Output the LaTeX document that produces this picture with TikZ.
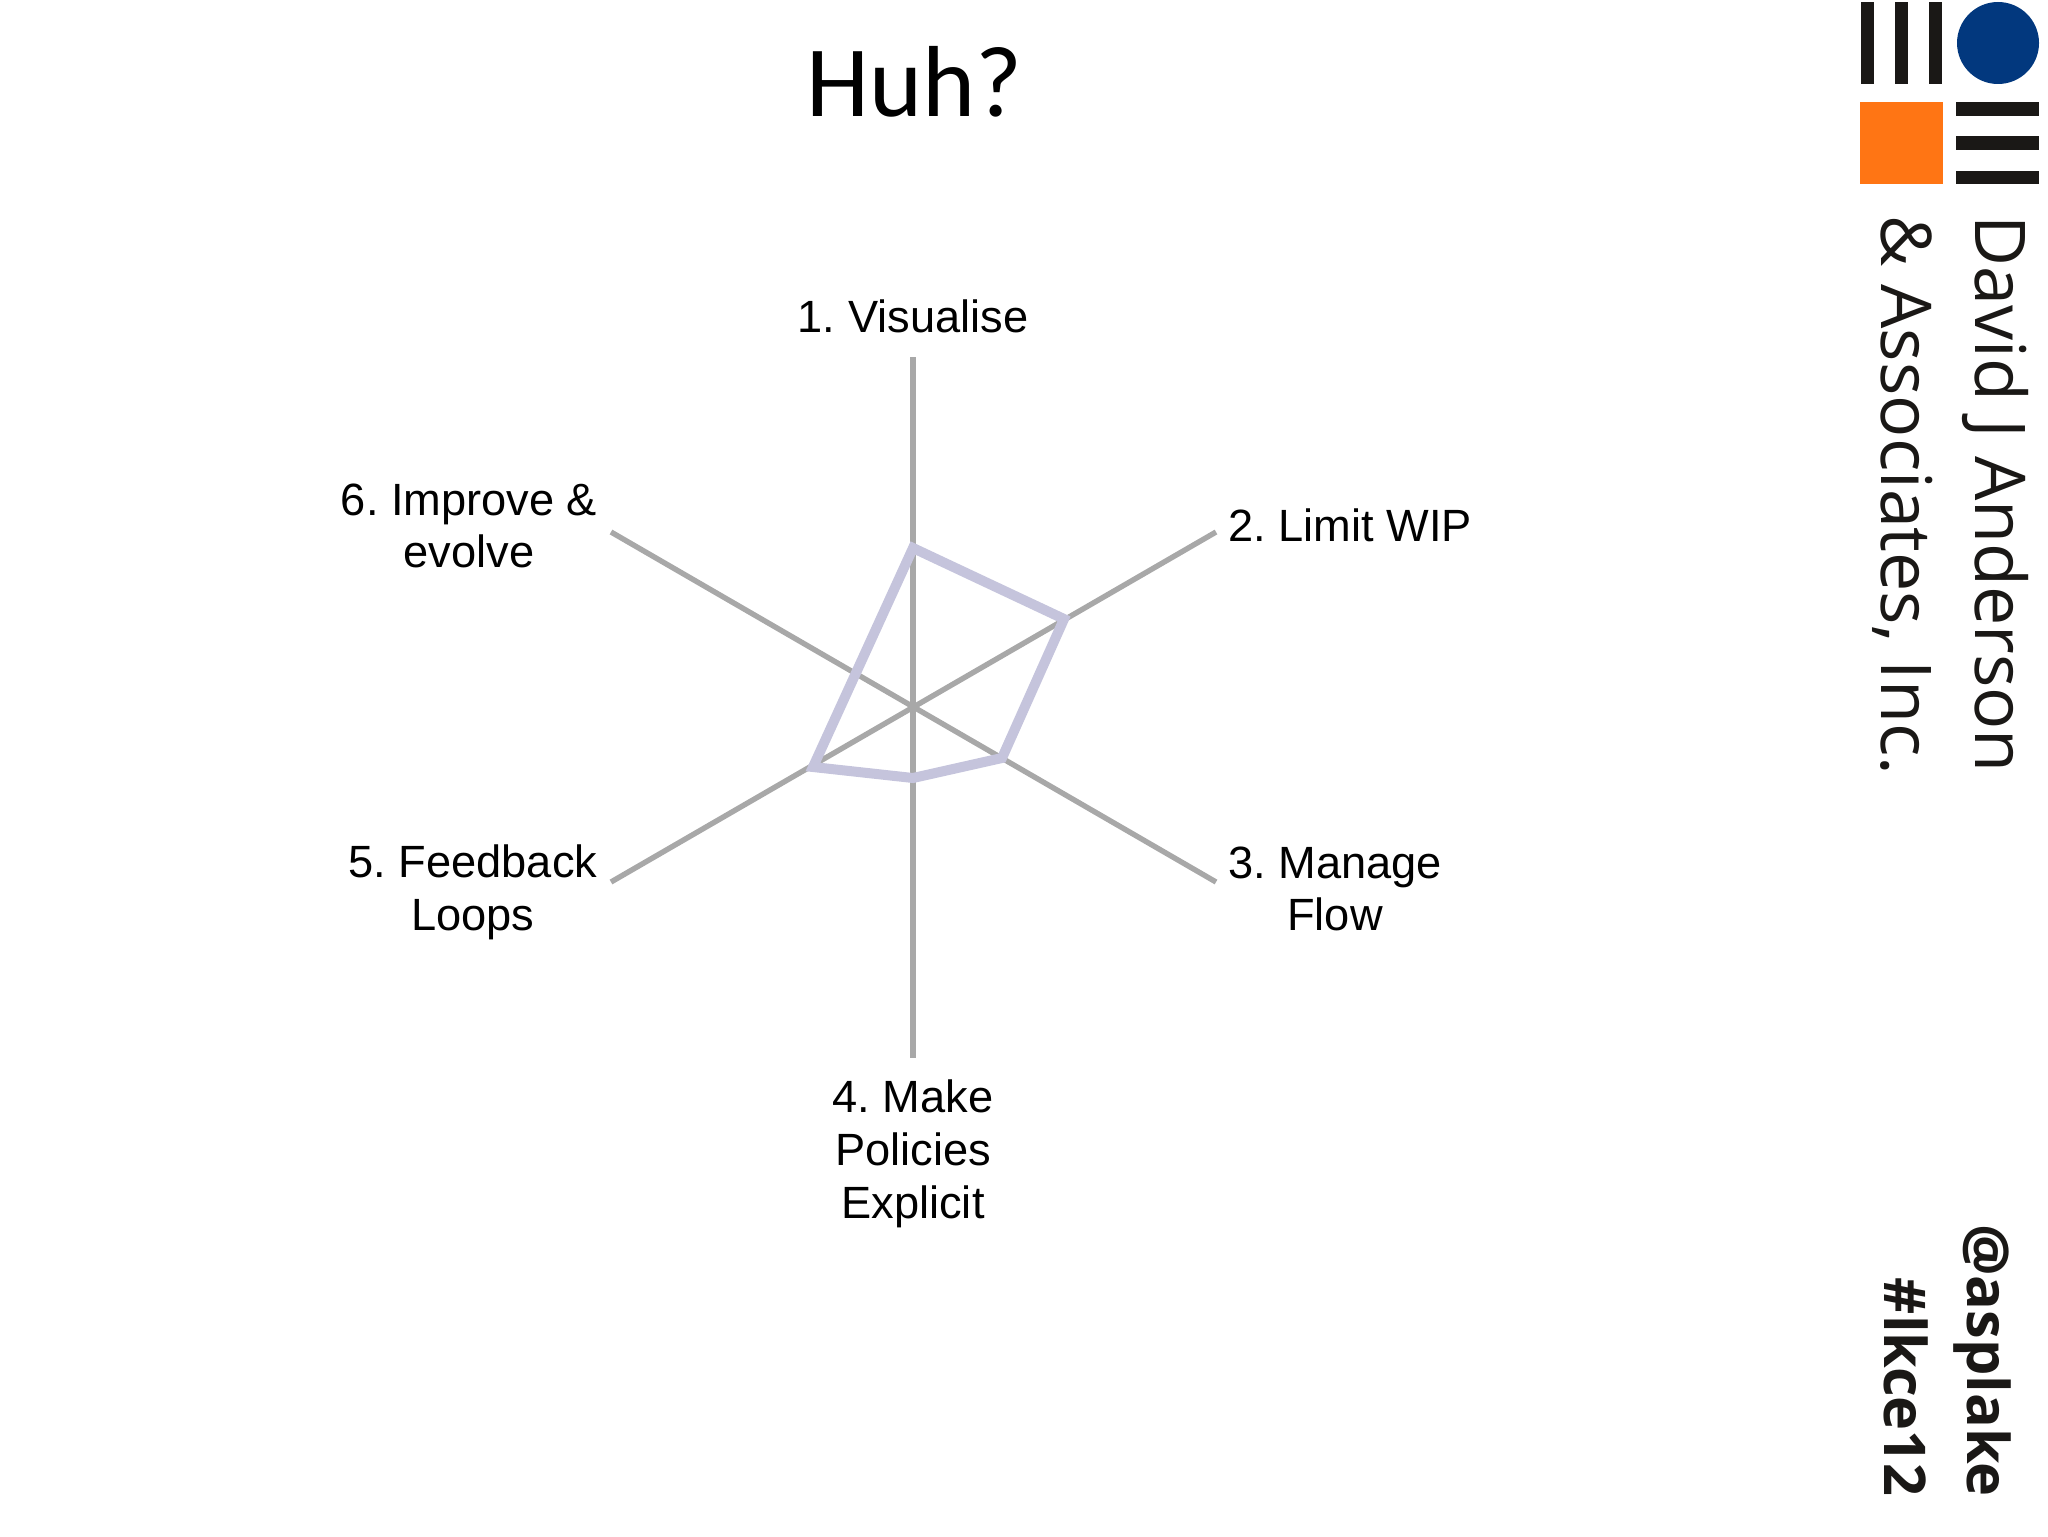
\documentclass[tikz,border=0pt]{standalone}
\usepackage{fontspec}
\setmainfont{Liberation Sans}
\newfontfamily\titlefont{Carlito}
\newfontfamily\brandfont{Open Sans}
\frenchspacing
\definecolor{spokegrey}{RGB}{168,168,168}
\definecolor{scorelilac}{RGB}{197,196,220}
\definecolor{logoblue}{RGB}{2,56,126}
\definecolor{logoorange}{RGB}{255,117,20}
\definecolor{logoblack}{RGB}{26,24,22}
\begin{document}
\begin{tikzpicture}[
      x=0.5pt,
      y=-0.5pt,
      spoke/.style={draw=spokegrey, line width=2.7pt},
      score/.style={draw=scorelilac, line width=5pt, line join=miter},
      axislabel/.style={align=center, inner sep=0pt, font=\fontsize{22.6}{26.4}\selectfont, text=black},
      brand/.style={rotate=-90, inner sep=0pt, anchor=west, text=logoblack, font=\brandfont\fontsize{35}{42}\selectfont},
      tag/.style={rotate=-90, inner sep=0pt, anchor=east, text=logoblack, font=\brandfont\bfseries\fontsize{28.8}{34}\selectfont},
      bar/.style={fill=logoblack, draw=none}]
    \useasboundingbox (0,0) rectangle (2048,1536);

    \coordinate (ctr)  at ( 913,  707);
    \coordinate (end1) at ( 913,  357);
    \coordinate (end2) at (1216,  532);
    \coordinate (end3) at (1216,  882);
    \coordinate (end4) at ( 913, 1058);
    \coordinate (end5) at ( 611,  882);
    \coordinate (end6) at ( 611,  532);

    \coordinate (s1) at ( 913,  548);
    \coordinate (s2) at (1064,  619);
    \coordinate (s3) at (1002,  758);
    \coordinate (s4) at ( 913,  778);
    \coordinate (s5) at ( 813,  767);

    \draw[spoke] (end1) -- (end4);
    \draw[spoke] (end2) -- (end5);
    \draw[spoke] (end6) -- (end3);
    \draw[score] (s1) -- (s2) -- (s3) -- (s4) -- (s5) -- cycle;

    \node[font=\titlefont\fontsize{50.5}{60}\selectfont] (title) at (914, 82) {Huh?};

    \node[axislabel] (l1) at ( 913,  316) {1. Visualise};
    \node[axislabel] (l2) at (1350,  525) {2. Limit WIP};
    \node[axislabel] (l3) at (1335,  889) {3. Manage\\Flow};
    \node[axislabel] (l4) at ( 913, 1154) {4. Make\\Policies\\Explicit};
    \node[axislabel] (l5) at ( 473,  892) {5. Feedback\\Loops};
    \node[axislabel] (l6) at ( 469,  526) {6. Improve \&\\evolve};

    % logo
    \fill[bar] (1861, 2) rectangle (1874, 84);
    \fill[bar] (1895, 2) rectangle (1908, 84);
    \fill[bar] (1929, 2) rectangle (1942, 84);
    \fill[logoblue] (1998, 43) circle (41);
    \fill[logoorange] (1860, 102) rectangle (1943, 184);
    \fill[bar] (1956, 102) rectangle (2039, 116);
    \fill[bar] (1956, 136) rectangle (2039, 150);
    \fill[bar] (1956, 171) rectangle (2039, 184);

    \node[brand] (david) at (1995, 215) {David J Anderson};
    \node[brand] (assoc) at (1903, 215) {\& Associates, Inc.};
    \node[tag] (handle) at (1982, 1497) {@asplake};
    \node[tag] (hash)   at (1906, 1497) {\#lkce12};
\end{tikzpicture}
\end{document}
